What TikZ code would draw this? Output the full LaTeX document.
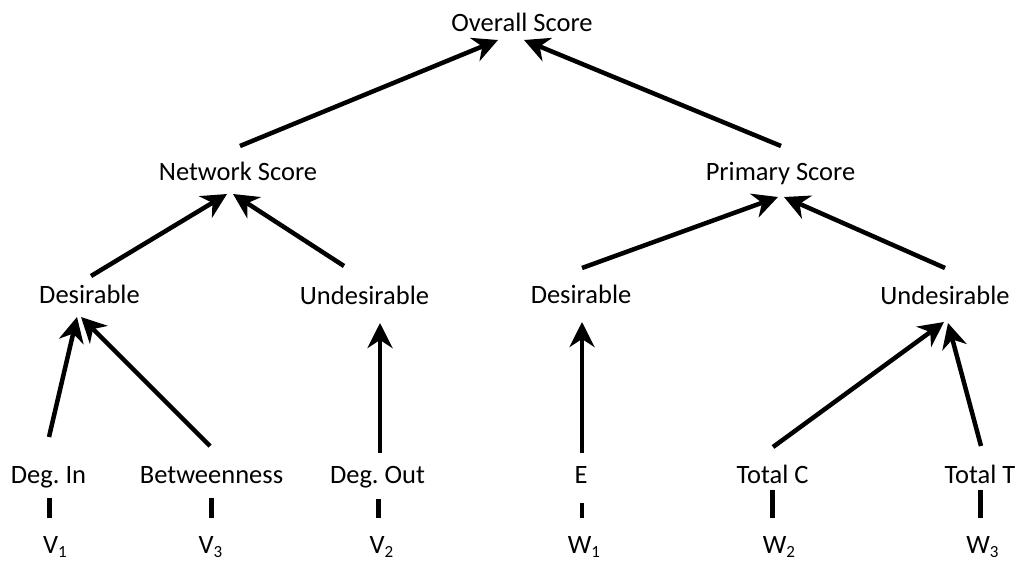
\documentclass[tikz,border=0pt]{standalone}
\usepackage{fontspec}
\setmainfont{Carlito}
\usetikzlibrary{arrows.meta}
\frenchspacing
% lowered, smaller index digit after a variable letter
\newcommand\lowidx[1]{\raisebox{-4pt}{\fontsize{17}{17}\selectfont #1}}

\begin{document}
\begin{tikzpicture}[x=1pt,y=1pt,
  lbl/.style={inner sep=0pt, anchor=base, font=\fontsize{26.5}{30}\selectfont},
  arr/.style={line width=4.5pt, -{Stealth[length=25pt,width=25pt,inset=8pt]}},
  tick/.style={line width=4.5pt}]
\useasboundingbox (0,0) rectangle (1019,-561);

% top level
\node[lbl] (overall) at (522,-32) {Overall Score};

% second level
\node[lbl] (net)  at (238,-181)   {Network Score};
\node[lbl] (prim) at (780.5,-181) {Primary Score};

% third level
\node[lbl] (desL) at (89.5,-303)  {Desirable};
\node[lbl] (undL) at (364.5,-304) {Undesirable};
\node[lbl] (desR) at (581,-303)   {Desirable};
\node[lbl] (undR) at (945,-304)   {Undesirable};

% measures
\node[lbl] (degin)  at (48.5,-483)  {Deg.\ In};
\node[lbl] (betw)   at (211.5,-483) {Betweenness};
\node[lbl] (degout) at (377.5,-483) {Deg.\ Out};
\node[lbl] (e)      at (581,-483)   {E};
\node[lbl] (totc)   at (772.5,-483) {Total C};
\node[lbl] (tott)   at (980,-483)   {Total T};

% weights
\node[lbl] (v1) at (55,-553)    {V\lowidx{1}};
\node[lbl] (v3) at (210.5,-553) {V\lowidx{3}};
\node[lbl] (v2) at (381.5,-553) {V\lowidx{2}};
\node[lbl] (w1) at (584,-553)   {W\lowidx{1}};
\node[lbl] (w2) at (779,-553)   {W\lowidx{2}};
\node[lbl] (w3) at (982.5,-553) {W\lowidx{3}};

% aggregation arrows
\draw[arr] ([shift={(2,35)}]net.base)    -- ([shift={(-24,-8)}]overall.base);
\draw[arr] ([shift={(0.5,35)}]prim.base) -- ([shift={(2,-8)}]overall.base);

\draw[arr] ([shift={(1.5,27)}]desL.base)  -- ([shift={(-11,-13)}]net.base);
\draw[arr] ([shift={(-20.5,38)}]undL.base) -- ([shift={(-5,-13)}]net.base);

\draw[arr] ([shift={(1,35)}]desR.base) -- ([shift={(-2.5,-16)}]prim.base);
\draw[arr] ([shift={(0,36)}]undR.base) -- ([shift={(3.5,-16)}]prim.base);

\draw[arr] ([shift={(0.5,46)}]degin.base) -- ([shift={(-12.5,-14)}]desL.base);
\draw[arr] ([shift={(-1.5,37)}]betw.base) -- ([shift={(-8.5,-14)}]desL.base);
\draw[arr] ([shift={(2.5,30)}]degout.base) -- ([shift={(15.5,-19)}]undL.base);
\draw[arr] ([shift={(1,30)}]e.base)       -- ([shift={(1,-19)}]desR.base);
\draw[arr] ([shift={(0.5,36)}]totc.base)  -- ([shift={(-1,-18)}]undR.base);
\draw[arr] ([shift={(1,37)}]tott.base)    -- ([shift={(3,-19)}]undR.base);

% weight ticks
\draw[tick] ([shift={(1,-15)}]degin.base)  -- ([shift={(-5.5,35)}]v1.base);
\draw[tick] ([shift={(0,-15)}]betw.base)   -- ([shift={(1,35)}]v3.base);
\draw[tick] ([shift={(1,-16)}]degout.base) -- ([shift={(-3,35)}]v2.base);
\draw[tick] ([shift={(1,-20)}]e.base)      -- ([shift={(-2,35)}]w1.base);
\draw[tick] ([shift={(0,-7)}]totc.base)    -- ([shift={(-6.5,35)}]w2.base);
\draw[tick] ([shift={(0.5,-7)}]tott.base)  -- ([shift={(-2,35)}]w3.base);
\end{tikzpicture}
\end{document}
